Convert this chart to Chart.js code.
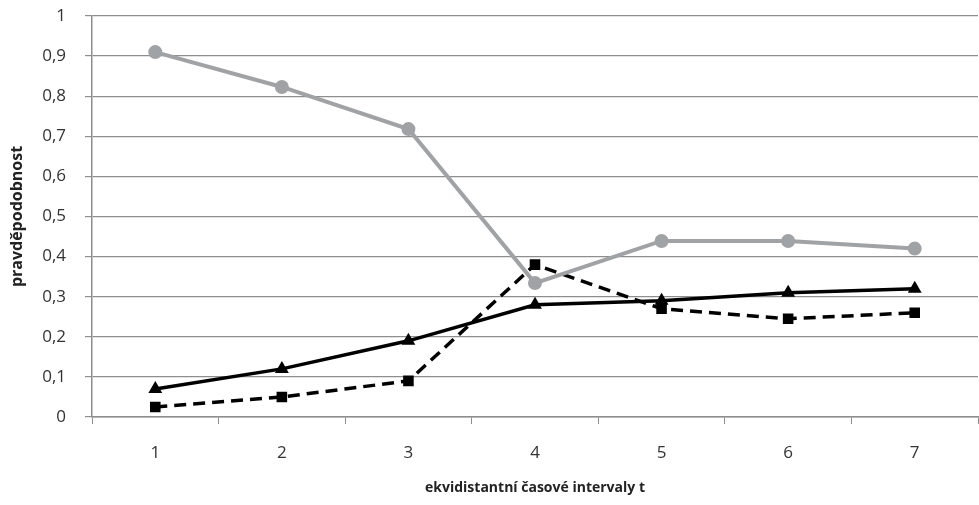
<!DOCTYPE html>
<html>
<head>
<meta charset="utf-8">
<script src="https://cdn.jsdelivr.net/npm/chart.js@4.4.1/dist/chart.umd.min.js"></script>
<style>
  html, body { margin: 0; padding: 0; background: #fff; overflow: hidden; }
  /* 8px wider than the window: Chart.js keeps ~8px free on the right */
  #wrap { width: 987px; height: 505px; }
</style>
</head>
<body>
<div id="wrap"><canvas id="chart"></canvas></div>
<script>
var categories = ['1', '2', '3', '4', '5', '6', '7'];
var grayValues = [0.91, 0.823, 0.718, 0.334, 0.439, 0.439, 0.42];
var triangleValues = [0.07, 0.12, 0.19, 0.28, 0.29, 0.31, 0.32];
var squareValues = [0.025, 0.05, 0.09, 0.38, 0.27, 0.245, 0.26];

var fontFamily = "'Open Sans', 'Liberation Sans', sans-serif";
var axisGray = '#8e8e8e';

document.addEventListener('DOMContentLoaded', function() {
    var ctx = document.getElementById('chart').getContext('2d');
    new Chart(ctx, {
        type: 'line',
        data: {
            labels: categories,
            datasets: [{
                data: grayValues,
                borderColor: '#a0a3a6',
                backgroundColor: '#a0a3a6',
                borderWidth: 4,
                pointStyle: 'circle',
                pointRadius: 5,
                tension: 0
            }, {
                data: squareValues,
                borderColor: '#000',
                backgroundColor: '#000',
                borderWidth: 3.5,
                borderDash: [12, 7],
                pointStyle: 'rect',
                pointRadius: 5,
                tension: 0
            }, {
                data: triangleValues,
                borderColor: '#000',
                backgroundColor: '#000',
                borderWidth: 3.5,
                pointStyle: 'triangle',
                pointRadius: 4.5,
                tension: 0
            }]
        },
        options: {
            responsive: true,
            maintainAspectRatio: false,
            animation: false,
            layout: { padding: { top: 0, right: 1, left: 0, bottom: 0 } },
            plugins: {
                legend: { display: false },
                tooltip: { enabled: false }
            },
            scales: {
                x: {
                    offset: true,
                    afterFit: function(scale) {
                        scale.height = 88;
                        scale.paddingLeft = 0;
                        scale.paddingRight = 0;
                    },
                    grid: {
                        offset: true,
                        drawOnChartArea: false,
                        color: axisGray,
                        tickLength: 7,
                        tickColor: axisGray
                    },
                    border: { color: axisGray, width: 1.5 },
                    ticks: {
                        color: '#333',
                        padding: 19,
                        font: { family: fontFamily, size: 17 }
                    },
                    title: {
                        display: true,
                        text: 'ekvidistantní časové intervaly t',
                        color: '#222',
                        padding: { top: 6, bottom: 9 },
                        font: { family: fontFamily, size: 14, weight: 'bold' }
                    }
                },
                y: {
                    min: 0,
                    max: 1,
                    afterFit: function(scale) {
                        scale.width = 92;
                        scale.paddingTop = 16;
                    },
                    grid: {
                        color: axisGray,
                        lineWidth: 1.2,
                        tickLength: 7,
                        tickColor: axisGray
                    },
                    border: { color: axisGray, width: 1.5 },
                    ticks: {
                        stepSize: 0.1,
                        color: '#333',
                        padding: 19,
                        font: { family: fontFamily, size: 17 },
                        callback: function(value) {
                            return (Math.round(value * 10) / 10).toString().replace('.', ',');
                        }
                    },
                    title: {
                        display: true,
                        text: 'pravděpodobnost',
                        color: '#222',
                        padding: { top: 8, bottom: 0 },
                        font: { family: fontFamily, size: 16, weight: 'bold' }
                    }
                }
            }
        }
    });
});
</script>
</body>
</html>
